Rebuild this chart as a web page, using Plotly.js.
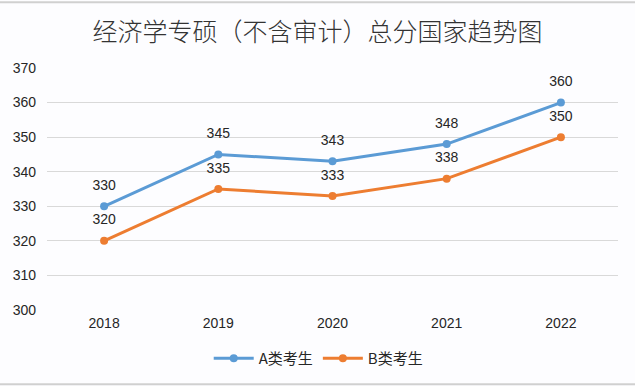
<!DOCTYPE html>
<html><head><meta charset="utf-8">
<script src="https://cdn.plot.ly/plotly-3.0.1.min.js"></script>
<style>html,body{margin:0;padding:0;background:#fff;}#chart{width:635px;height:386px;}</style>
</head><body><div id="chart"></div>
<script>
const years = ['2018','2019','2020','2021','2022'];
const seriesA = [330, 345, 343, 348, 360];
const seriesB = [320, 335, 333, 338, 350];
const nameA = 'A类考生';
const nameB = 'B类考生';
const yTicks = [300, 310, 320, 330, 340, 350, 360, 370];
const titleText = '经济学专硕（不含审计）总分国家趋势图';

const blue = '#5B9BD5', orange = '#ED7D31';
function numFont(sz) { return {family: 'Liberation Sans, Arial, sans-serif', size: sz, color: '#262626'}; }

function mk(name, ys, color) {
  return {x: years, y: ys, name: name, type: 'scatter', mode: 'lines+markers',
    line: {color: color, width: 3}, marker: {color: color, size: 8}, hoverinfo: 'skip'};
}
function labels(ys) {
  return {x: years, y: ys, type: 'scatter', mode: 'markers+text', showlegend: false,
    text: ys.map(String), textposition: 'top center', textfont: numFont(14),
    marker: {size: 19, opacity: 0, color: '#fff'}, hoverinfo: 'skip', cliponaxis: false};
}

Plotly.newPlot('chart', [mk(nameA, seriesA, blue), mk(nameB, seriesB, orange), labels(seriesA), labels(seriesB)], {
  width: 635, height: 386,
  paper_bgcolor: '#fdfdff', plot_bgcolor: '#fdfdff',
  margin: {l: 47, r: 17, t: 68, b: 75},
  title: {text: titleText, x: 0.5, xanchor: 'center', y: 0.917, yanchor: 'middle',
    font: {family: 'Noto Sans CJK SC, sans-serif', size: 25, color: '#333', weight: 300}},
  xaxis: {type: 'category', range: [-0.5, 4.5], showgrid: false, zeroline: false, showline: false,
    ticks: '', tickfont: numFont(14), ticklabelstandoff: 3},
  yaxis: {range: [300, 370], tickvals: yTicks, showgrid: true, gridcolor: '#d9d9d9', gridwidth: 1,
    zeroline: false, showline: false, ticks: '', tickfont: numFont(14), ticklabelstandoff: 10},
  showlegend: true,
  legend: {orientation: 'h', x: 0.475, xanchor: 'center', y: -0.195, yanchor: 'middle',
    font: {family: 'Noto Sans CJK SC, sans-serif', size: 15, color: '#262626'}, itemwidth: 40},
  shapes: [
    {type: 'line', xref: 'paper', yref: 'paper', x0: -0.2, x1: 1.2, y0: 1.272, y1: 1.272, line: {color: '#d0d0d0', width: 2}},
    {type: 'line', xref: 'paper', yref: 'paper', x0: -0.2, x1: 1.2, y0: -0.307, y1: -0.307, line: {color: '#d0d0d0', width: 2}}
  ]
}, {displayModeBar: false});
</script></body></html>
